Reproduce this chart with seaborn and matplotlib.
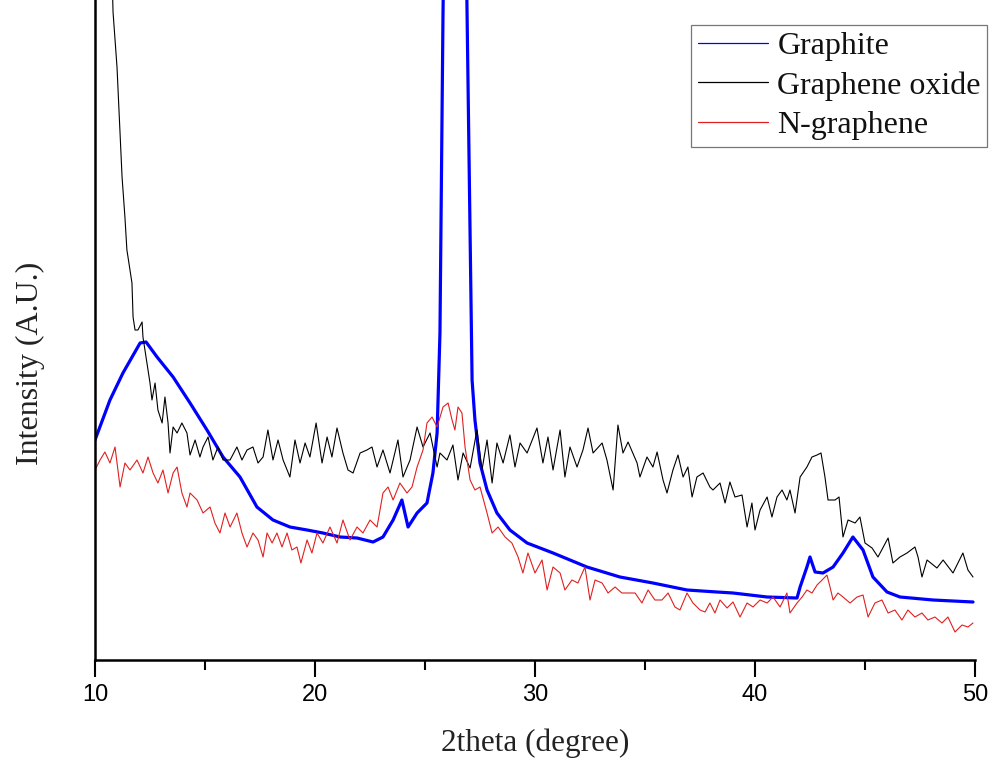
import matplotlib
matplotlib.use("Agg")
import matplotlib.pyplot as plt
from matplotlib.ticker import MultipleLocator
import seaborn as sns
import pandas as pd

# ---------------- data ----------------
graphite_x = [10.00, 10.68, 11.27, 12.05, 12.32, 12.82, 13.55, 14.32, 15.09, 15.82,
              16.59, 17.36, 18.09, 18.86, 19.64, 20.36, 21.14, 21.91, 22.64, 23.09,
              23.55, 23.95, 24.23, 24.64, 25.09, 25.36, 25.55, 25.68, 25.82, 26.36,
              26.91, 27.14, 27.27, 27.50, 27.82, 28.27, 28.86, 29.64, 30.82, 32.36,
              33.86, 35.36, 36.91, 38.27, 39.00, 40.55, 41.91, 42.05, 42.36, 42.50,
              42.73, 43.09, 43.55, 44.00, 44.45, 44.91, 45.36, 46.00, 46.59, 48.09,
              49.91]
graphite_y = [215, 255, 282, 312, 313, 298, 278, 252, 225, 198,
              178, 148, 135, 128, 125, 122, 118, 117, 113, 118,
              135, 155, 128, 142, 152, 182, 222, 322, 645, 1500,
              645, 275, 235, 192, 165, 142, 125, 112, 102, 88,
              78, 72, 65, 63, 62, 58, 57, 68, 88, 98,
              83, 82, 88, 102, 118, 105, 78, 63, 58, 55,
              53]

go_x = [10.00, 10.40, 10.82, 11.00, 11.14, 11.23, 11.36, 11.45, 11.50, 11.68,
        11.73, 11.82, 11.95, 12.14, 12.18, 12.36, 12.50, 12.59, 12.73, 12.86,
        13.05, 13.18, 13.32, 13.41, 13.55, 13.73, 13.95, 14.18, 14.32, 14.55,
        14.77, 14.91, 15.14, 15.36, 15.59, 15.82, 16.14, 16.45, 16.68, 16.91,
        17.18, 17.41, 17.64, 17.86, 18.09, 18.32, 18.55, 18.86, 19.09, 19.32,
        19.55, 19.77, 20.05, 20.32, 20.55, 20.77, 21.00, 21.27, 21.50, 21.73,
        22.05, 22.36, 22.59, 22.82, 23.09, 23.41, 23.77, 24.00, 24.32, 24.64,
        24.91, 25.23, 25.55, 25.68, 26.00, 26.27, 26.50, 26.73, 27.05, 27.36,
        27.59, 27.82, 28.05, 28.27, 28.55, 28.86, 29.09, 29.32, 29.64, 30.09,
        30.36, 30.59, 30.82, 31.14, 31.36, 31.59, 31.91, 32.18, 32.41, 32.64,
        33.05, 33.27, 33.55, 33.77, 34.00, 34.23, 34.64, 34.77, 35.09, 35.36,
        35.55, 35.82, 36.00, 36.27, 36.50, 36.73, 36.95, 37.14, 37.36, 37.64,
        37.95, 38.09, 38.41, 38.64, 38.86, 39.09, 39.41, 39.64, 39.86, 40.00,
        40.23, 40.55, 40.77, 41.00, 41.23, 41.45, 41.59, 41.82, 42.05, 42.36,
        42.59, 42.82, 43.00, 43.18, 43.32, 43.64, 43.82, 44.00, 44.23, 44.55,
        44.77, 45.00, 45.32, 45.59, 46.05, 46.27, 46.59, 46.91, 47.27, 47.41,
        47.59, 47.82, 48.27, 48.55, 49.00, 49.45, 49.68, 49.91]
go_y = [1500, 1000, 643, 588, 522, 478, 438, 405, 398, 372,
        338, 325, 325, 333, 318, 292, 272, 255, 272, 245,
        232, 258, 232, 202, 228, 222, 232, 222, 200, 215,
        198, 208, 218, 195, 208, 195, 195, 208, 195, 205,
        208, 192, 198, 225, 195, 215, 195, 178, 215, 192,
        212, 198, 232, 192, 218, 198, 227, 202, 185, 182,
        202, 205, 208, 188, 205, 182, 215, 178, 195, 228,
        208, 222, 188, 202, 195, 210, 175, 202, 187, 225,
        185, 215, 172, 212, 192, 220, 188, 212, 202, 227,
        192, 218, 185, 225, 178, 208, 188, 205, 227, 202,
        212, 195, 165, 230, 202, 213, 192, 178, 198, 188,
        203, 175, 162, 185, 200, 178, 188, 158, 178, 182,
        168, 165, 172, 152, 173, 158, 160, 128, 152, 125,
        145, 158, 138, 158, 165, 155, 165, 142, 178, 188,
        198, 200, 202, 178, 155, 155, 158, 118, 135, 132,
        138, 112, 107, 98, 117, 92, 98, 102, 108, 98,
        78, 95, 87, 95, 82, 102, 85, 78]

ng_x = [10.00, 10.23, 10.45, 10.68, 10.91, 11.14, 11.36, 11.59, 11.91, 12.18,
        12.41, 12.64, 12.86, 13.09, 13.32, 13.55, 13.73, 13.95, 14.18, 14.32,
        14.64, 14.91, 15.23, 15.45, 15.68, 15.91, 16.14, 16.45, 16.68, 16.91,
        17.18, 17.41, 17.64, 17.82, 18.05, 18.27, 18.50, 18.73, 18.95, 19.18,
        19.36, 19.64, 19.86, 20.09, 20.36, 20.68, 21.00, 21.27, 21.59, 21.91,
        22.18, 22.50, 22.82, 23.09, 23.32, 23.55, 23.86, 24.18, 24.41, 24.64,
        24.91, 25.09, 25.32, 25.55, 25.82, 26.05, 26.23, 26.36, 26.50, 26.68,
        26.82, 27.05, 27.27, 27.50, 27.82, 28.05, 28.32, 28.64, 28.95, 29.23,
        29.45, 29.68, 30.00, 30.32, 30.55, 30.82, 31.14, 31.36, 31.68, 31.95,
        32.27, 32.50, 32.73, 33.05, 33.32, 33.64, 33.95, 34.23, 34.55, 34.86,
        35.14, 35.45, 35.77, 36.05, 36.36, 36.59, 36.91, 37.18, 37.50, 37.73,
        37.95, 38.18, 38.41, 38.73, 39.00, 39.32, 39.64, 39.91, 40.23, 40.55,
        40.82, 41.14, 41.45, 41.59, 41.91, 42.14, 42.36, 42.59, 42.82, 43.05,
        43.27, 43.41, 43.55, 43.77, 44.00, 44.32, 44.64, 44.91, 45.14, 45.45,
        45.77, 46.05, 46.36, 46.68, 46.95, 47.27, 47.59, 47.86, 48.18, 48.50,
        48.77, 49.09, 49.41, 49.68, 49.91]
ng_y = [185, 195, 203, 192, 208, 168, 192, 185, 195, 182,
        198, 182, 172, 185, 162, 182, 188, 162, 148, 162,
        155, 142, 148, 132, 122, 142, 128, 142, 122, 108,
        122, 115, 98, 122, 112, 122, 108, 122, 105, 108,
        92, 115, 102, 122, 112, 128, 112, 135, 115, 128,
        122, 135, 128, 162, 168, 155, 172, 162, 168, 188,
        205, 232, 238, 228, 248, 252, 235, 225, 248, 242,
        208, 175, 165, 168, 142, 122, 128, 118, 112, 98,
        82, 102, 82, 95, 65, 88, 82, 65, 75, 72,
        88, 55, 75, 72, 62, 68, 62, 62, 62, 52,
        65, 55, 55, 62, 48, 45, 62, 52, 45, 43,
        52, 42, 55, 47, 53, 38, 52, 48, 55, 52,
        58, 48, 62, 42, 52, 58, 65, 62, 70, 75,
        80, 68, 55, 62, 58, 52, 58, 60, 38, 52,
        55, 42, 45, 35, 45, 38, 42, 35, 38, 32,
        38, 23, 30, 28, 32]

series_names = ["Graphite", "Graphene oxide", "N-graphene"]
series_colors = ["#0000ff", "#000000", "#e02020"]
x_ticks = [10, 20, 30, 40, 50]

# ---------------- styling ----------------
sns.set_theme(style="ticks")
plt.rcParams["font.family"] = ["Liberation Serif", "DejaVu Serif"]

fig = plt.figure(figsize=(9.89, 7.58), dpi=100)
ax = fig.add_axes([95 / 989, 98 / 758, 880 / 989, 660 / 758])

df_g = pd.DataFrame({"x": graphite_x, "y": graphite_y})
df_o = pd.DataFrame({"x": go_x, "y": go_y})
df_n = pd.DataFrame({"x": ng_x, "y": ng_y})

sns.lineplot(data=df_g, x="x", y="y", ax=ax, color=series_colors[0], lw=2.3,
             estimator=None, sort=False, label=series_names[0])
sns.lineplot(data=df_o, x="x", y="y", ax=ax, color=series_colors[1], lw=0.8,
             estimator=None, sort=False, label=series_names[1])
sns.lineplot(data=df_n, x="x", y="y", ax=ax, color=series_colors[2], lw=0.8,
             estimator=None, sort=False, label=series_names[2])

ax.set_xlim(10, 50)
ax.set_ylim(-5, 655)
ax.set_xticks(x_ticks)
ax.xaxis.set_minor_locator(MultipleLocator(5))
ax.set_yticks([])
ax.tick_params(axis="x", which="major", direction="out", length=12, width=1.5,
               color="black", pad=5)
ax.tick_params(axis="x", which="minor", direction="out", length=7, width=1.5,
               color="black")
for lab in ax.get_xticklabels():
    lab.set_family(["Liberation Sans", "DejaVu Sans"])
    lab.set_fontsize(17)
    lab.set_color("black")

for side in ["top", "right"]:
    ax.spines[side].set_visible(False)
for side in ["left", "bottom"]:
    ax.spines[side].set_linewidth(1.8)
    ax.spines[side].set_color("black")

ax.set_xlabel("2theta (degree)", fontsize=22.5, color="#222222")
ax.set_ylabel("Intensity (A.U.)", fontsize=23, color="#222222")
ax.xaxis.set_label_coords(0.5, -0.104)
ax.yaxis.set_label_coords(-0.057, 0.45)

leg = ax.legend(loc="upper right", bbox_to_anchor=(1.014, 0.962), fontsize=23,
                frameon=True, fancybox=False, edgecolor="#555555",
                handlelength=2.2, handletextpad=0.3, labelspacing=0.32,
                borderpad=0.2, borderaxespad=0.0)
leg.get_frame().set_linewidth(0.9)
for h in leg.get_lines():
    h.set_linewidth(0.9)
for t in leg.get_texts():
    t.set_color("#111111")

fig.savefig("out.png", dpi=100)
